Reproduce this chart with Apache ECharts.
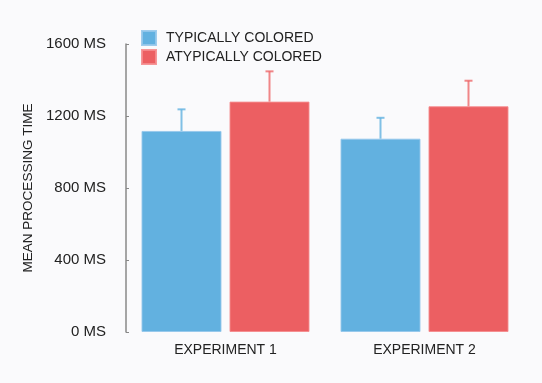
<!DOCTYPE html>
<html>
<head>
<meta charset="utf-8">
<script src="https://cdn.jsdelivr.net/npm/echarts@6/dist/echarts.min.js"></script>
<style>
html,body{margin:0;padding:0;background:#fafafc;}
#chart{width:542px;height:383px;}
</style>
</head>
<body>
<div id="chart"></div>
<script>
const categories = ['EXPERIMENT 1', 'EXPERIMENT 2'];
const seriesNames = ['TYPICALLY COLORED', 'ATYPICALLY COLORED'];
const typicalMeans = [1117, 1074];
const typicalErrTop = [1237, 1190];
const atypicalMeans = [1280, 1254];
const atypicalErrTop = [1448, 1396];
const yTicks = [0, 400, 800, 1200, 1600];

const colors = ['#62b1e0', '#ec5f62'];
const errColors = ['rgba(98,177,224,0.8)', 'rgba(236,95,98,0.75)'];
const font = 'Liberation Sans, Arial, Helvetica, sans-serif';

const chart = echarts.init(document.getElementById('chart'));

function errSeries(idx, means, tops) {
  return {
    type: 'custom',
    name: seriesNames[idx] + ' err',
    data: means.map((m, i) => [i, m, tops[i]]),
    z: 3,
    silent: true,
    renderItem: function (params, api) {
      const ci = api.value(0);
      const base = api.coord([ci, api.value(1)]);
      const top = api.coord([ci, api.value(2)]);
      const barW = 80;
      const gap = 8;
      const x = base[0] + (idx === 0 ? -(gap / 2 + barW / 2) : (gap / 2 + barW / 2));
      const style = { stroke: errColors[idx], lineWidth: 2 };
      return {
        type: 'group',
        children: [
          { type: 'line', shape: { x1: x, y1: base[1], x2: x, y2: top[1] }, style: style },
          { type: 'line', shape: { x1: x - 4, y1: top[1], x2: x + 4, y2: top[1] }, style: style }
        ]
      };
    }
  };
}

chart.setOption({
  backgroundColor: '#fafafc',
  animation: false,
  grid: { left: 126, right: 18, top: 44, bottom: 51 },
  legend: {
    data: seriesNames,
    orient: 'vertical',
    left: 136,
    top: 25,
    itemWidth: 14,
    itemHeight: 14,
    itemGap: 3,
    icon: 'rect',
    textStyle: { fontFamily: font, fontSize: 14, color: '#222', padding: [0, 0, 0, 5] }
  },
  xAxis: {
    type: 'category',
    data: categories,
    axisLine: { show: false },
    axisTick: { show: false },
    axisLabel: { fontFamily: font, fontSize: 14, color: '#222', margin: 11 }
  },
  yAxis: {
    type: 'value',
    min: yTicks[0],
    max: yTicks[yTicks.length - 1],
    interval: 400,
    name: 'MEAN PROCESSING TIME',
    nameLocation: 'middle',
    nameGap: 90,
    nameTextStyle: { fontFamily: font, fontSize: 13.5, color: '#222' },
    axisLine: { show: true, lineStyle: { color: '#888', width: 1.5 } },
    axisTick: { show: true, inside: true, length: 3, lineStyle: { color: '#888', width: 1 } },
    splitLine: { show: false },
    axisLabel: {
      fontFamily: font, fontSize: 15, color: '#222', margin: 20,
      formatter: v => v + ' MS'
    }
  },
  series: [
    {
      type: 'bar', name: seriesNames[0], data: typicalMeans,
      barWidth: 80, barGap: '10%',
      itemStyle: { color: colors[0], borderColor: 'rgba(150,200,235,0.9)', borderWidth: 1 }
    },
    {
      type: 'bar', name: seriesNames[1], data: atypicalMeans,
      barWidth: 80, barGap: '10%',
      itemStyle: { color: colors[1], borderColor: 'rgba(245,140,142,0.9)', borderWidth: 1 }
    },
    errSeries(0, typicalMeans, typicalErrTop),
    errSeries(1, atypicalMeans, atypicalErrTop)
  ]
});
</script>
</body>
</html>
